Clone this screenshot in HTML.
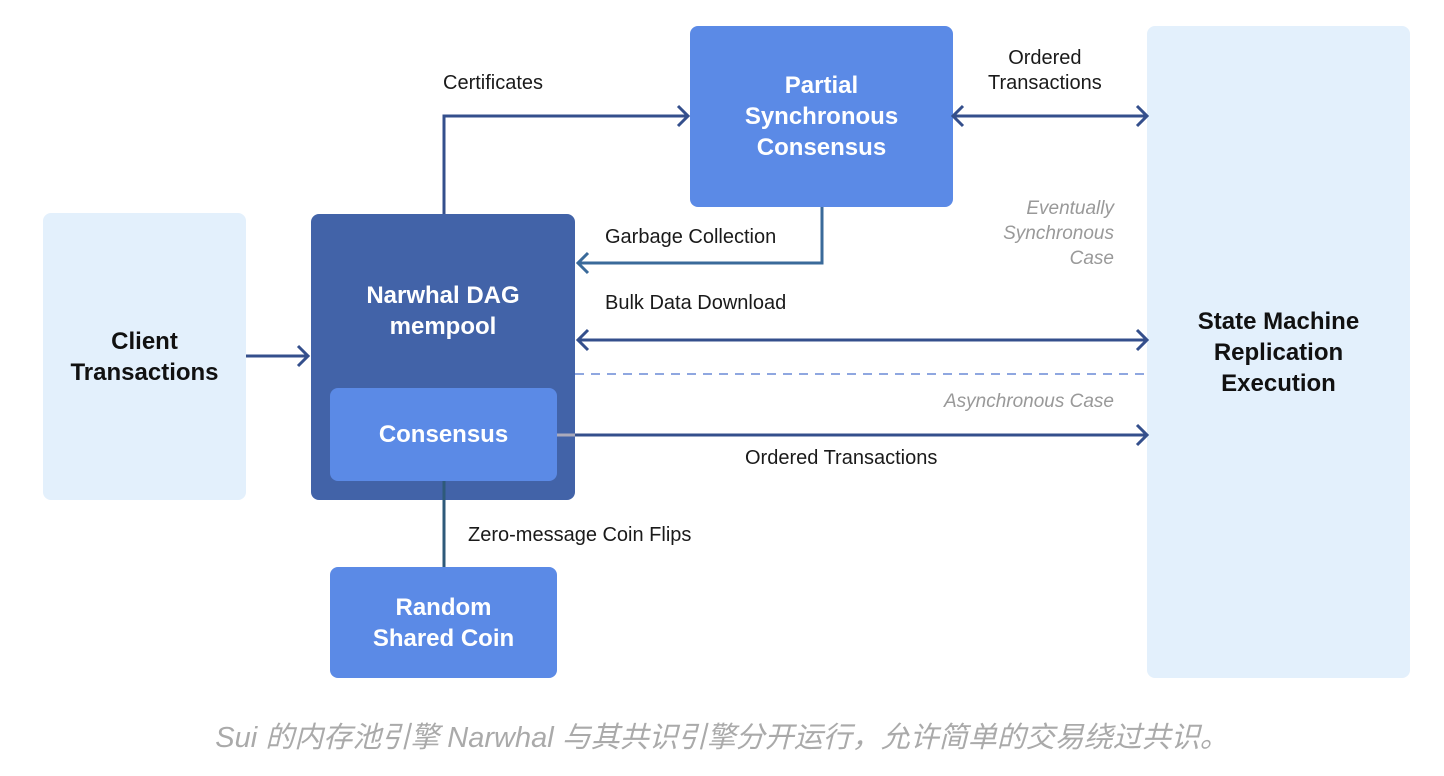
<!DOCTYPE html>
<html><head><meta charset="utf-8"><style>
body{margin:0;width:1444px;height:776px;background:#fff;position:relative;overflow:hidden;font-family:"Liberation Sans","Noto Sans CJK SC",sans-serif}
.b{position:absolute;border-radius:8px;display:flex;align-items:center;justify-content:center;text-align:center;font-weight:bold;font-size:24px;line-height:31px}
.t{position:absolute;font-size:20px;color:#1a1a1a;white-space:nowrap}
.g{position:absolute;font-size:19px;color:#999;font-style:italic;text-align:right;line-height:25px}
</style></head><body>
<div class="b" style="left:43px;top:213px;width:203px;height:287px;background:#e3f0fc;color:#111">Client<br>Transactions</div>
<div class="b" style="left:311px;top:214px;width:264px;height:286px;background:#4263a8;color:#fff;align-items:flex-start;padding-top:66px;box-sizing:border-box">Narwhal DAG<br>mempool</div>
<div class="b" style="left:330px;top:388px;width:227px;height:93px;background:#5b8ae6;color:#fff">Consensus</div>
<div class="b" style="left:690px;top:26px;width:263px;height:181px;background:#5b8ae6;color:#fff">Partial<br>Synchronous<br>Consensus</div>
<div class="b" style="left:330px;top:567px;width:227px;height:111px;background:#5b8ae6;color:#fff">Random<br>Shared Coin</div>
<div class="b" style="left:1147px;top:26px;width:263px;height:652px;background:#e3f0fc;color:#111">State Machine<br>Replication<br>Execution</div>
<svg width="1444" height="776" style="position:absolute;left:0;top:0" fill="none" stroke="#344f8c" stroke-width="3">
<path d="M246 356H308M298 346L308 356L298 366"/>
<path d="M444 214V116H688M678 106L688 116L678 126"/>
<path d="M953 116H1147M963 106L953 116L963 126M1137 106L1147 116L1137 126"/>
<path d="M822 207V263H578M588 253L578 263L588 273" stroke="#3a6a9a"/>
<path d="M578 340H1147M588 330L578 340L588 350M1137 330L1147 340L1137 350"/>
<path d="M575 374H1147" stroke="#8fa7e0" stroke-width="2" stroke-dasharray="9 7"/>
<path d="M557 435H575" stroke="#aab"/>
<path d="M575 435H1147M1137 425L1147 435L1137 445"/>
<path d="M444 481V567" stroke="#2e5a7a"/>
</svg>
<div class="t" style="left:443px;top:72px">Certificates</div>
<div class="t" style="left:988px;top:46px;text-align:center;line-height:25px">Ordered<br>Transactions</div>
<div class="t" style="left:605px;top:226px">Garbage Collection</div>
<div class="t" style="left:605px;top:292px">Bulk Data Download</div>
<div class="t" style="left:745px;top:447px">Ordered Transactions</div>
<div class="t" style="left:468px;top:524px">Zero-message Coin Flips</div>
<div class="g" style="left:940px;top:196px;width:174px">Eventually<br>Synchronous<br>Case</div>
<div class="g" style="left:880px;top:389px;width:234px">Asynchronous Case</div>
<div style="position:absolute;left:0;width:1444px;top:714px;text-align:center;font-size:29px;color:#aaa;font-style:italic">Sui 的内存池引擎 Narwhal 与其共识引擎分开运行，允许简单的交易绕过共识。</div>
</body></html>
